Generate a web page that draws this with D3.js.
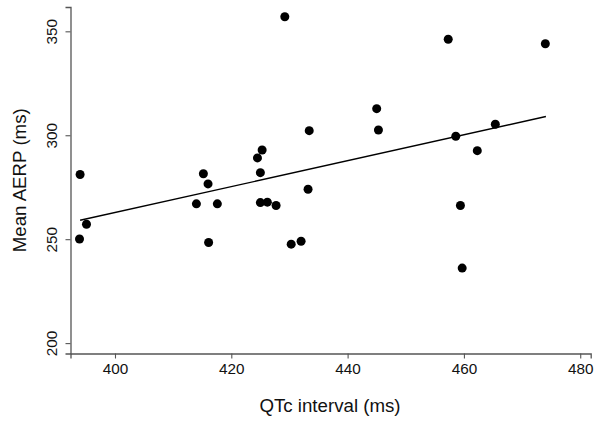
<!DOCTYPE html>
<html>
<head>
<meta charset="utf-8">
<script src="https://cdn.jsdelivr.net/npm/d3@7"></script>
<style>
  html, body { margin: 0; padding: 0; background: #fff; }
  svg { display: block; font-family: "Liberation Sans", Arial, Helvetica, sans-serif; }
</style>
</head>
<body>
<svg id="chart" width="600" height="423"></svg>
<script>
// QTc interval (ms)
const qtc = [429.2, 445.0, 445.3, 433.4, 425.3, 424.5, 425.0, 415.2, 416.0, 433.2,
             425.0, 426.2, 427.7, 414.0, 417.6, 416.1, 430.3, 432.0, 393.9, 395.1,
             394.0, 457.3, 474.0, 458.6, 465.4, 462.3, 459.4, 459.7];
// Mean AERP (ms)
const aerp = [357.0, 312.8, 302.5, 302.2, 292.9, 289.1, 282.0, 281.5, 276.6, 274.0,
              267.6, 267.8, 266.2, 267.0, 267.0, 248.4, 247.6, 249.0, 250.1, 257.2,
              281.1, 346.2, 344.0, 299.5, 305.3, 292.6, 266.2, 236.1];
// Fitted regression line end points
const fitX = [394.0, 474.1];
const fitY = [259.1, 309.0];

const xTicks = [400, 420, 440, 460, 480];
const yTicks = [200, 250, 300, 350];
const xTitle = "QTc interval (ms)";
const yTitle = "Mean AERP (ms)";

const svg = d3.select("#chart");
const mLeft = 70.5, mRight = 590.7, mTop = 7, mBottom = 353.5;

const x = d3.scaleLinear().domain([392.35, 481.8]).range([mLeft, mRight]);
const y = d3.scaleLinear().domain([195.0, 361.7]).range([mBottom, mTop]);

const axisColor = "#555";

// X axis
const gx = svg.append("g").attr("transform", `translate(0,${mBottom})`)
  .call(d3.axisBottom(x).tickValues(xTicks).tickSizeOuter(0).tickSize(5).tickPadding(5));
gx.select(".domain").attr("stroke", axisColor).attr("stroke-width", 1.3);
gx.selectAll(".tick line").attr("stroke", axisColor).attr("stroke-width", 1.1);
gx.selectAll(".tick text").attr("font-size", 15.3).attr("fill", "#111")
  .attr("font-family", "Liberation Sans, Arial, sans-serif");

// Y axis
const gy = svg.append("g").attr("transform", `translate(${mLeft},0)`)
  .call(d3.axisLeft(y).tickValues(yTicks).tickSizeOuter(0).tickSize(5).tickPadding(8));
gy.select(".domain").attr("stroke", axisColor).attr("stroke-width", 1.3);
gy.selectAll(".tick line").attr("stroke", axisColor).attr("stroke-width", 1.1);
gy.selectAll(".tick text")
  .attr("font-size", 15.3).attr("fill", "#111")
  .attr("font-family", "Liberation Sans, Arial, sans-serif")
  .attr("x", null).attr("dy", null)
  .attr("text-anchor", "middle")
  .attr("transform", "translate(-13.5,0) rotate(-90)");

// Titles
svg.append("text")
  .attr("x", 330).attr("y", 411.5)
  .attr("text-anchor", "middle")
  .attr("font-size", 18.7).attr("fill", "#111")
  .text(xTitle);

svg.append("text")
  .attr("transform", `translate(25.5,${(mTop + mBottom) / 2}) rotate(-90)`)
  .attr("text-anchor", "middle")
  .attr("font-size", 18.7).attr("fill", "#111")
  .text(yTitle);

// Regression line
const fit = fitX.map((v, i) => [v, fitY[i]]);
svg.append("path")
  .datum(fit)
  .attr("d", d3.line().x(d => x(d[0])).y(d => y(d[1])))
  .attr("stroke", "#000").attr("stroke-width", 1.4).attr("fill", "none");

// Points
const pts = qtc.map((v, i) => [v, aerp[i]]);
svg.append("g").selectAll("circle")
  .data(pts).join("circle")
  .attr("cx", d => x(d[0])).attr("cy", d => y(d[1]))
  .attr("r", 4.5).attr("fill", "#000");
</script>
</body>
</html>
